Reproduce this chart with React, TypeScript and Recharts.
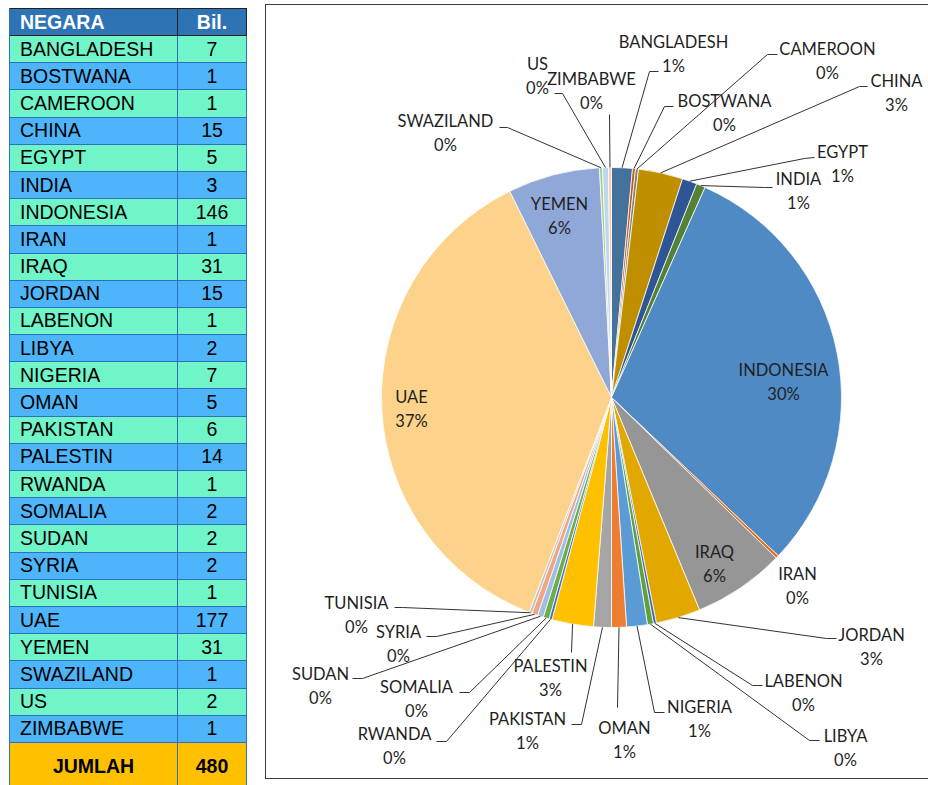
import { Cell, Pie, PieChart } from "recharts";

const countries = [
  "BANGLADESH", "BOSTWANA", "CAMEROON", "CHINA", "EGYPT", "INDIA", "INDONESIA",
  "IRAN", "IRAQ", "JORDAN", "LABENON", "LIBYA", "NIGERIA", "OMAN", "PAKISTAN",
  "PALESTIN", "RWANDA", "SOMALIA", "SUDAN", "SYRIA", "TUNISIA", "UAE", "YEMEN",
  "SWAZILAND", "US", "ZIMBABWE",
];
const counts = [7, 1, 1, 15, 5, 3, 146, 1, 31, 15, 1, 2, 7, 5, 6, 14, 1, 2, 2, 2, 1, 177, 31, 1, 2, 1];
const totalLabel = "JUMLAH";

const sliceColors = [
  "#44729d", "#c45a1a", "#7f7f7f", "#bf8f00", "#2f5597", "#538135",
  "#4f8ac4", "#e07020", "#969696", "#e3a800", "#3e68b8", "#62a03c",
  "#5b9bd5", "#ed7d31", "#a5a5a5", "#ffc000", "#4472c4", "#70ad47",
  "#9cbfe6", "#f1a585", "#c4c4c4", "#fdd28a", "#8fa8d8", "#a6cf8a",
  "#bdd7ee", "#f8cbad",
];

// label placement, relative to the pie centre (name line y, then leader elbow / end)
type Spot = { dx: number; dy: number; elbow?: [number, number]; end?: [number, number] };
const labelSpots: Spot[] = [
  { dx: 62, dy: -356, elbow: [38, -326], end: [47, -326] },
  { dx: 113, dy: -297, elbow: [53, -291], end: [62, -291] },
  { dx: 216, dy: -349, elbow: [156, -343], end: [166, -343] },
  { dx: 285, dy: -317, elbow: [248, -311], end: [256, -311] },
  { dx: 231, dy: -246, elbow: [193, -239], end: [203, -240] },
  { dx: 187, dy: -219, elbow: [153, -210], end: [161, -210] },
  { dx: 172, dy: -28 },
  { dx: 186, dy: 176 },
  { dx: 103, dy: 154 },
  { dx: 260, dy: 237, elbow: [215, 241], end: [225, 241] },
  { dx: 192, dy: 283, elbow: [141, 288], end: [151, 288] },
  { dx: 234, dy: 338, elbow: [198, 343], end: [208, 343] },
  { dx: 88, dy: 309, elbow: [43, 315], end: [53, 315] },
  { dx: 13, dy: 330, end: [6, 310] },
  { dx: -84, dy: 321, elbow: [-30, 327], end: [-40, 327] },
  { dx: -61, dy: 268, end: [-40, 255] },
  { dx: -217, dy: 336, elbow: [-165, 344], end: [-175, 344] },
  { dx: -195, dy: 289, elbow: [-142, 295], end: [-152, 295] },
  { dx: -291, dy: 276, elbow: [-249, 281], end: [-259, 281] },
  { dx: -213, dy: 234, elbow: [-175, 239], end: [-185, 239] },
  { dx: -255, dy: 205, elbow: [-209, 210], end: [-217, 210] },
  { dx: -200, dy: -1 },
  { dx: -52, dy: -194 },
  { dx: -166, dy: -277, elbow: [-104, -270], end: [-112, -270] },
  { dx: -74, dy: -334, elbow: [-49, -304], end: [-57, -304] },
  { dx: -20, dy: -319, end: [-2, -283] },
];

const RAD = Math.PI / 180;

function renderLabel(props: any) {
  const { cx, cy, midAngle, outerRadius, percent, index, name } = props;
  const spot = labelSpots[index];
  const x = cx + spot.dx;
  const y = cy + spot.dy;
  let leader = null;
  if (spot.end) {
    const pts: number[][] = [
      [cx + outerRadius * Math.cos(-midAngle * RAD), cy + outerRadius * Math.sin(-midAngle * RAD)],
    ];
    if (spot.elbow) pts.push([cx + spot.elbow[0], cy + spot.elbow[1]]);
    pts.push([cx + spot.end[0], cy + spot.end[1]]);
    leader = (
      <polyline
        points={pts.map((p) => p.join(",")).join(" ")}
        fill="none"
        stroke="#333"
        strokeWidth={1}
      />
    );
  }
  return (
    <g key={`lbl-${index}`}>
      {leader}
      <text
        textAnchor="middle"
        dominantBaseline="central"
        fill="#1f1f1f"
        fontFamily="Lato, 'Noto Sans', sans-serif"
        fontSize={16.5}
      >
        <tspan x={x} y={y}>{name}</tspan>
        <tspan x={x} y={y + 24}>{`${Math.round(percent * 100)}%`}</tspan>
      </text>
    </g>
  );
}

const cellBase = {
  boxSizing: "border-box" as const,
  display: "flex",
  alignItems: "center",
  borderRight: "1px solid #2f6fc0",
  borderBottom: "1px solid #2f6fc0",
};

function CountryTable() {
  const total = counts.reduce((a, b) => a + b, 0);
  return (
    <div
      style={{
        position: "absolute",
        left: 9,
        top: 8,
        width: 237,
        fontFamily: "'Liberation Sans', Arial, sans-serif",
        fontSize: 19.5,
        color: "#000",
        borderLeft: "1px solid #2f6fc0",
      }}
    >
      <div style={{ display: "flex", height: 28, background: "#2e74b5", borderTop: "1px solid #222", boxSizing: "border-box" }}>
        <div style={{ ...cellBase, width: 168, paddingLeft: 10, color: "#fff", fontWeight: 700, borderRight: "1px solid #222", borderBottom: "1px solid #222" }}>
          NEGARA
        </div>
        <div style={{ ...cellBase, width: 69, justifyContent: "center", color: "#fff", fontWeight: 700, borderRight: "1px solid #222", borderBottom: "1px solid #222" }}>
          Bil.
        </div>
      </div>
      {countries.map((c, i) => {
        const bg = i % 2 === 0 ? "#70f5c9" : "#4fb5fa";
        return (
          <div key={c} style={{ display: "flex", height: 27.2, background: bg }}>
            <div style={{ ...cellBase, width: 168, paddingLeft: 10 }}>{c}</div>
            <div style={{ ...cellBase, width: 69, justifyContent: "center" }}>{counts[i]}</div>
          </div>
        );
      })}
      <div style={{ display: "flex", height: 43, background: "#ffc000", fontWeight: 700 }}>
        <div style={{ ...cellBase, width: 168, justifyContent: "center", paddingTop: 6 }}>{totalLabel}</div>
        <div style={{ ...cellBase, width: 69, justifyContent: "center", paddingTop: 6 }}>{total}</div>
      </div>
    </div>
  );
}

export default function App() {
  const data = countries.map((name, i) => ({ name, value: counts[i] }));
  return (
    <div
      style={{
        position: "absolute",
        left: 0,
        top: 0,
        width: 928,
        height: 785,
        overflow: "hidden",
        background: "#fff",
      }}
    >
      <CountryTable />
      <div
        style={{
          position: "absolute",
          left: 265,
          top: 4,
          width: 690,
          height: 775,
          border: "1.5px solid #3a3a3a",
          boxSizing: "border-box",
        }}
      >
        <PieChart width={686} height={771} margin={{ top: 0, right: 0, bottom: 0, left: 0 }}>
          <Pie
            data={data}
            dataKey="value"
            nameKey="name"
            cx={345.5}
            cy={392.5}
            outerRadius={230}
            startAngle={90}
            endAngle={-270}
            stroke="#ffffff"
            strokeWidth={0.75}
            label={renderLabel}
            labelLine={false}
            isAnimationActive={false}
          >
            {data.map((d, i) => (
              <Cell key={d.name} fill={sliceColors[i]} />
            ))}
          </Pie>
        </PieChart>
      </div>
    </div>
  );
}
